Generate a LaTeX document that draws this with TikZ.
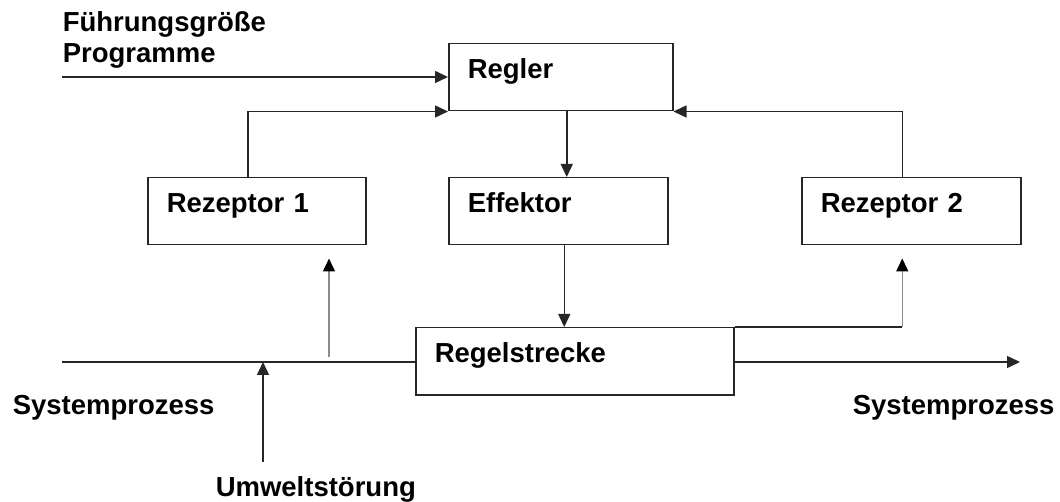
\documentclass[tikz,border=0pt]{standalone}
\usepackage{fontspec}
\setmainfont{Liberation Sans}
\usepackage{tikz}
\usetikzlibrary{arrows.meta,calc}

\begin{document}
\begin{tikzpicture}[x=1pt,y=-1pt,>={Triangle[length=13pt,width=12pt]},
                    line width=1.5pt,draw=black!85,
                    font=\fontsize{27.5}{31}\selectfont\bfseries,
                    block/.style={draw,anchor=north west,align=left,inner xsep=19pt,
                                  inner ysep=0pt,text height=35pt,text depth=32pt},
                    tap/.style={->,draw=black!45,>={Triangle[length=13pt,width=12pt,color=black]}},
                    lbl/.style={anchor=base west,inner sep=0pt}]
                    \useasboundingbox (0,0) rectangle (1060,502);
                    \node[block,text width=186pt] (regler) at (448,43) {Regler};
                    \node[block,text width=180pt] (rez1) at (147,177) {Rezeptor 1};
                    \node[block,text width=181pt] (eff) at (448,177) {Effektor};
                    \node[block,text width=181pt] (rez2) at (801,177) {Rezeptor 2};
                    \node[block,text width=280pt] (strecke) at (415,327) {Regelstrecke};

                    \node[lbl] (fg) at (62,32) {Führungsgröße};
                    \node[lbl] (prog) at (62,63) {Programme};
                    \node[lbl] (sysl) at (12,414) {Systemprozess};
                    \node[lbl] (sysr) at (852,414) {Systemprozess};
                    \node[lbl] (umwelt) at (215,496) {Umweltstörung};

                    \coordinate (fin) at (62,77);
                    \coordinate (sysin) at (62,362);
                    \coordinate (sysout) at (1020,362);
                    \coordinate (stoer) at (263,462);
                    \coordinate (tap1) at (329,357);
                    \coordinate (r1top) at ([xshift=-9pt]rez1.north);
                    \coordinate (r2top) at ([xshift=-9pt]rez2.north);
                    \coordinate (r2bot) at ([xshift=-9pt]rez2.south);

                    % Fuehrungsgroesse und Rueckfuehrung
                    \draw[->] (fin) -- (regler.west |- fin);
                    \draw[->] (r1top) |- (regler.south west);
                    \draw[->] (r2top) |- (regler.south east);

                    % Stellgroesse
                    \draw[->] ([xshift=6pt]regler.south) -- ([xshift=6pt]regler.south |- eff.north);
                    \draw[->] ([xshift=6pt]eff.south) -- ([xshift=6pt]eff.south |- strecke.north);

                    % Systemprozess
                    \draw (sysin) -- (strecke.west |- sysin);
                    \draw[->] (strecke.east |- sysout) -- (sysout);
                    \draw[->] (stoer) -- (stoer |- sysin);
                    \draw[tap,shorten >=13pt] (tap1) -- (tap1 |- rez1.south);
                    \draw (strecke.north east) -- (r2bot |- strecke.north east);
                    \draw[tap,shorten >=13pt] (r2bot |- strecke.north east) -- (r2bot);
                \end{tikzpicture}
\end{document}
